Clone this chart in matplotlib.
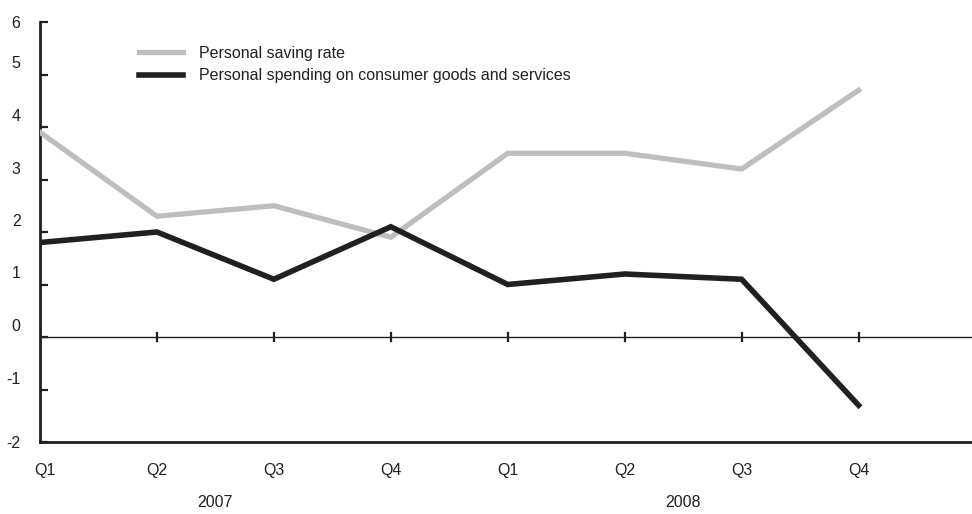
import matplotlib
matplotlib.use("Agg")
import matplotlib.pyplot as plt
from matplotlib.transforms import ScaledTranslation
from matplotlib.lines import Line2D

plt.rcParams['font.family'] = ['Liberation Sans', 'DejaVu Sans']

quarters = ["Q1", "Q2", "Q3", "Q4", "Q1", "Q2", "Q3", "Q4"]
years = ["2007", "2008"]
saving_rate = [3.9, 2.3, 2.5, 1.9, 3.5, 3.5, 3.2, 4.7]
spending = [1.8, 2.0, 1.1, 2.1, 1.0, 1.2, 1.1, -1.3]
yticks = [-2, -1, 0, 1, 2, 3, 4, 5, 6]

gray = "#BCBEC0"
dark = "#231F20"

fig = plt.figure(figsize=(9.72, 5.14), dpi=100)
ax = fig.add_axes([40/972, 1-442/514, 1-40/972, (442-22)/514])

x = list(range(len(quarters)))
ax.plot(x, saving_rate, color=gray, lw=3.8, solid_joinstyle='miter', zorder=3)
ax.plot(x, spending, color=dark, lw=4.0, solid_joinstyle='miter', zorder=4)

ax.axhline(0, color=dark, lw=1.0, zorder=2)
for xi in x[1:]:
    ax.plot([xi, xi], [-0.07, 0.07], color=dark, lw=1.6, zorder=2)

ax.set_xlim(0, 7.97)
ax.set_ylim(-2, 6)
for s in ['top', 'right']:
    ax.spines[s].set_visible(False)
ax.spines['left'].set_linewidth(2.0)
ax.spines['bottom'].set_linewidth(2.0)
ax.spines['left'].set_color(dark)
ax.spines['bottom'].set_color(dark)

fs = 11.5
ax.set_yticks(yticks)
ax.set_yticklabels([str(v) for v in yticks])
ax.tick_params(axis='y', direction='in', length=6, width=1.6, color=dark,
               labelsize=fs, pad=14, labelcolor=dark)
for lbl, v in zip(ax.get_yticklabels(), yticks):
    if -2 < v < 6:
        lbl.set_transform(lbl.get_transform() + ScaledTranslation(0, 0.12, fig.dpi_scale_trans))

ax.set_xticks(x)
ax.set_xticklabels(quarters)
ax.tick_params(axis='x', length=0, labelsize=fs, pad=15, labelcolor=dark)
xl = ax.get_xticklabels()
xl[0].set_transform(xl[0].get_transform() + ScaledTranslation(0.05, 0, fig.dpi_scale_trans))

year_pos = [1.5, 5.5]
for yp, yl in zip(year_pos, years):
    ax.text(yp, -0.145, yl, transform=ax.get_xaxis_transform(), ha='center', va='center',
            fontsize=fs, color=dark)

handles = [Line2D([], [], color=gray, lw=3.8), Line2D([], [], color=dark, lw=4.0)]
labels = ["Personal saving rate", "Personal spending on consumer goods and services"]
leg = ax.legend(handles, labels, loc='upper left', bbox_to_anchor=(0.091, 0.977),
                frameon=False, fontsize=fs, handlelength=2.75, handletextpad=1.0,
                labelspacing=0.45, labelcolor=dark)

fig.savefig("out.png", dpi=100)
